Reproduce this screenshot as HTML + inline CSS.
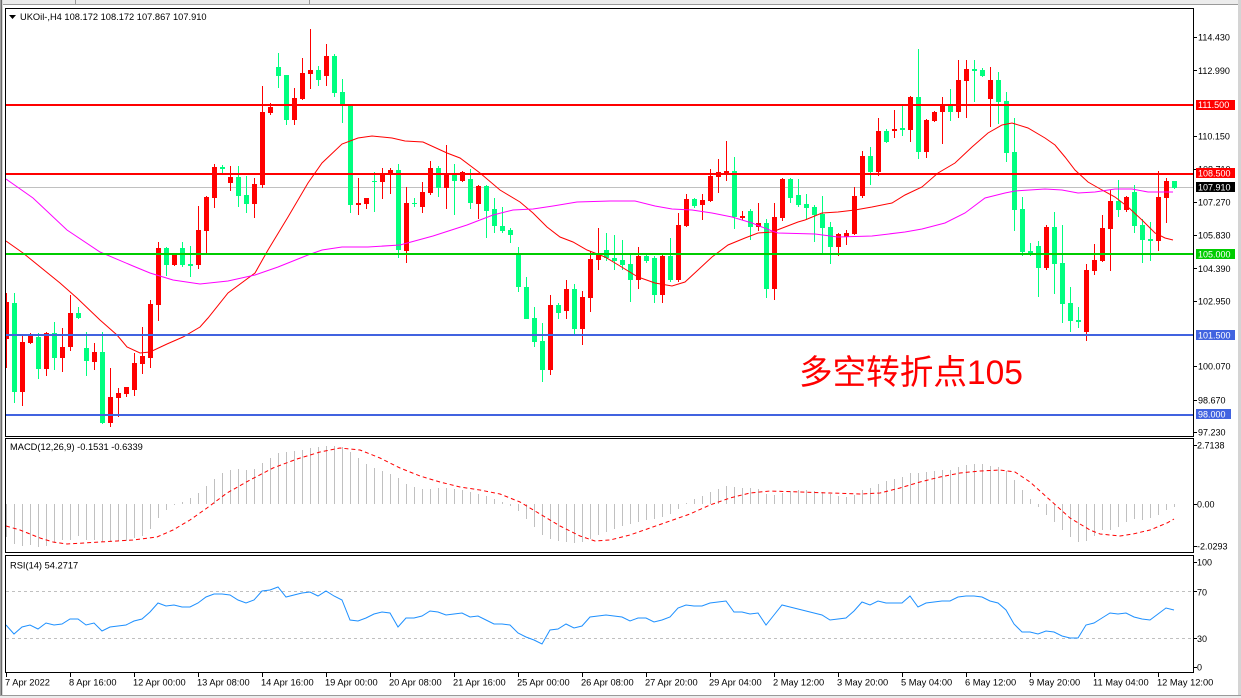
<!DOCTYPE html>
<html><head><meta charset="utf-8"><style>
html,body{margin:0;padding:0;background:#fff;}
svg{display:block;}
text{font-family:"Liberation Sans",Arial,sans-serif;}
</style></head><body>
<svg width="1241" height="698" viewBox="0 0 1241 698" xmlns="http://www.w3.org/2000/svg">
<defs><clipPath id="cm"><rect x="6" y="9" width="1187" height="427"/></clipPath>
<clipPath id="cmacd"><rect x="6" y="439" width="1187" height="113"/></clipPath>
<clipPath id="crsi"><rect x="6" y="556" width="1187" height="116"/></clipPath></defs>
<rect x="0" y="0" width="1241" height="698" fill="#fff"/>
<!-- window chrome -->
<rect x="0" y="0" width="1241" height="4" fill="#ececec"/>
<rect x="0" y="4" width="1241" height="1" fill="#9a9a9a"/>
<rect x="75" y="0" width="1" height="4" fill="#9a9a9a"/>
<rect x="309" y="0" width="1" height="4" fill="#9a9a9a"/>
<rect x="0" y="0" width="1" height="698" fill="#a0a0a0"/>
<rect x="1" y="0" width="1" height="698" fill="#6a6a6a"/>
<rect x="2" y="0" width="1" height="698" fill="#d8d8d8"/>
<rect x="1238" y="0" width="3" height="698" fill="#d4d4d4"/>
<rect x="0" y="695" width="1241" height="3" fill="#ececec"/>
<rect x="0" y="695" width="1241" height="1" fill="#9a9a9a"/>

<!-- current price gray line -->
<rect x="6" y="187" width="1187" height="1" fill="#c0c0c0"/>

<g clip-path="url(#cm)" shape-rendering="crispEdges">
<path fill="none" stroke="#ff0000" stroke-width="1" d="M6.5 293V368M22.5 336V406M30.5 333V344M46.5 332V376M62.5 328V372M70.5 295V351M94.5 343V370M110.5 368V427M118.5 388V417M126.5 387V397M134.5 353V396M142.5 327V374M150.5 300V368M158.5 242V321M174.5 255V266M198.5 206V269M206.5 196V253M214.5 164V208M230.5 166V191M254.5 178V218M262.5 86V188M270.5 103V115M294.5 88V125M302.5 58V100M310.5 29V89M326.5 44V86M358.5 178V215M366.5 198V209M382.5 168V199M390.5 168V194M406.5 187V263M422.5 182V213M430.5 161V195M446.5 145V209M462.5 171V182M478.5 185V219M550.5 295V375M566.5 280V319M582.5 291V345M590.5 251V312M598.5 228V270M638.5 247V289M662.5 255V303M678.5 213V282M686.5 194V227M702.5 194V220M710.5 169V202M718.5 159V193M726.5 141V181M742.5 211V220M758.5 203V231M774.5 203V300M782.5 178V221M838.5 233V256M846.5 230V245M854.5 187V235M862.5 151V198M878.5 118V176M894.5 110V138M910.5 96V142M926.5 119V158M934.5 111V122M942.5 97V144M958.5 60V118M966.5 60V118M990.5 67V127M1046.5 225V270M1086.5 264V341M1094.5 244V275M1102.5 215V262M1110.5 190V271M1126.5 196V212M1158.5 171V251M1166.5 178V223"/>
<path fill="#ff0000" d="M4 302h5v37h-5zM20 342h5v50h-5zM28 336h5v7h-5zM44 333h5v36h-5zM60 347h5v11h-5zM68 313h5v34h-5zM92 352h5v10h-5zM108 397h5v26h-5zM116 393h5v5h-5zM124 387h5v7h-5zM132 363h5v27h-5zM140 356h5v8h-5zM148 304h5v54h-5zM156 248h5v57h-5zM172 255h5v10h-5zM196 230h5v35h-5zM204 197h5v34h-5zM212 167h5v31h-5zM228 177h5v6h-5zM252 184h5v20h-5zM260 112h5v73h-5zM268 107h5v6h-5zM292 98h5v22h-5zM300 73h5v26h-5zM308 70h5v4h-5zM324 56h5v20h-5zM356 203h5v2h-5zM364 198h5v6h-5zM380 173h5v9h-5zM388 170h5v4h-5zM404 203h5v48h-5zM420 192h5v15h-5zM428 168h5v25h-5zM444 174h5v14h-5zM460 172h5v9h-5zM476 186h5v18h-5zM548 305h5v65h-5zM564 289h5v22h-5zM580 297h5v32h-5zM588 259h5v39h-5zM596 254h5v6h-5zM636 256h5v24h-5zM660 256h5v39h-5zM676 225h5v55h-5zM684 199h5v27h-5zM700 200h5v5h-5zM708 176h5v25h-5zM716 172h5v5h-5zM724 171h5v3h-5zM740 216h5v2h-5zM756 223h5v4h-5zM772 217h5v72h-5zM780 179h5v39h-5zM836 234h5v13h-5zM844 233h5v4h-5zM852 196h5v38h-5zM860 156h5v40h-5zM876 131h5v41h-5zM892 129h5v2h-5zM908 97h5v33h-5zM924 120h5v32h-5zM932 112h5v9h-5zM940 105h5v7h-5zM956 80h5v32h-5zM964 69h5v12h-5zM988 80h5v19h-5zM1044 227h5v41h-5zM1084 270h5v62h-5zM1092 260h5v11h-5zM1100 228h5v33h-5zM1108 201h5v28h-5zM1124 197h5v13h-5zM1156 197h5v44h-5zM1164 181h5v17h-5z"/>
<path fill="none" stroke="#00ff7f" stroke-width="1" d="M14.5 293V403M38.5 333V379M54.5 322V370M78.5 307V319M86.5 332V376M102.5 332V424M166.5 247V276M182.5 242V267M190.5 246V277M222.5 165V173M238.5 166V207M246.5 176V213M278.5 53V88M286.5 75V125M318.5 66V86M334.5 54V97M342.5 79V123M350.5 105V213M374.5 172V212M398.5 164V258M414.5 198V207M438.5 166V197M454.5 164V215M470.5 169V209M486.5 185V238M494.5 198V233M502.5 207V233M510.5 228V243M518.5 247V292M526.5 277V319M534.5 307V347M542.5 323V382M558.5 303V319M574.5 284V334M606.5 233V261M614.5 235V270M622.5 240V270M630.5 253V302M646.5 254V263M654.5 256V303M670.5 238V282M694.5 198V208M734.5 157V229M750.5 209V240M766.5 219V298M790.5 178V203M798.5 179V207M806.5 194V220M814.5 205V242M822.5 196V253M830.5 222V264M870.5 147V185M886.5 129V143M902.5 106V136M918.5 49V159M950.5 89V121M974.5 60V102M982.5 68V77M998.5 72V124M1006.5 92V162M1014.5 118V231M1022.5 197V256M1030.5 243V256M1038.5 241V297M1054.5 212V294M1062.5 225V323M1070.5 287V332M1078.5 307V328M1118.5 180V217M1134.5 185V233M1142.5 219V263M1150.5 222V261M1174.5 181V189"/>
<path fill="#00ff7f" d="M12 303h5v89h-5zM36 337h5v32h-5zM52 333h5v25h-5zM76 313h5v5h-5zM84 348h5v13h-5zM100 352h5v71h-5zM164 248h5v17h-5zM180 248h5v17h-5zM188 264h5v2h-5zM220 167h5v2h-5zM236 177h5v19h-5zM244 195h5v9h-5zM276 67h5v9h-5zM284 75h5v45h-5zM316 70h5v10h-5zM332 56h5v37h-5zM340 92h5v13h-5zM348 105h5v100h-5zM372 181h5v1h-5zM396 170h5v80h-5zM412 203h5v1h-5zM436 168h5v20h-5zM452 175h5v6h-5zM468 179h5v24h-5zM484 186h5v25h-5zM492 209h5v17h-5zM500 226h5v5h-5zM508 230h5v5h-5zM516 254h5v33h-5zM524 287h5v32h-5zM532 318h5v24h-5zM540 341h5v29h-5zM556 305h5v8h-5zM572 289h5v40h-5zM604 250h5v8h-5zM612 258h5v3h-5zM620 260h5v5h-5zM628 264h5v16h-5zM644 256h5v5h-5zM652 258h5v37h-5zM668 256h5v24h-5zM692 199h5v7h-5zM732 171h5v46h-5zM748 211h5v16h-5zM764 223h5v66h-5zM788 179h5v19h-5zM796 195h5v10h-5zM804 204h5v4h-5zM812 207h5v8h-5zM820 214h5v14h-5zM828 227h5v20h-5zM868 156h5v16h-5zM884 131h5v11h-5zM900 128h5v2h-5zM916 97h5v55h-5zM948 105h5v7h-5zM972 69h5v2h-5zM980 70h5v6h-5zM996 80h5v22h-5zM1004 101h5v52h-5zM1012 152h5v58h-5zM1020 209h5v43h-5zM1028 251h5v2h-5zM1036 246h5v22h-5zM1052 227h5v37h-5zM1060 263h5v41h-5zM1068 303h5v18h-5zM1076 320h5v2h-5zM1116 201h5v9h-5zM1132 192h5v34h-5zM1140 225h5v15h-5zM1148 239h5v2h-5zM1172 181h5v7h-5z"/>
</g>

<g clip-path="url(#cm)">
<!-- moving averages -->
<polyline fill="none" stroke="#ff0000" stroke-width="1" points="6,241 23,253 60,283 77,298 100,320 117,335 127,347 140,353 150,352 167,344 183,337 200,327 208,318 228,293 255,273 268,250 288,217 308,183 322,163 342,144 358,138 372,136 392,138 405,141 423,142 447,153 460,158 480,173 500,190 520,202 533,213 547,227 560,237 573,242 587,250 605,257 620,266 638,277 655,283 672,286 685,282 698,270 712,257 728,245 745,238 758,233 772,232 785,227 798,222 805,220 822,213 838,212 855,210 872,207 892,203 905,195 922,187 938,173 955,163 972,147 988,133 1002,125 1012,123 1028,128 1045,138 1055,145 1065,157 1075,170 1088,182 1102,190 1115,197 1128,207 1142,220 1155,233 1165,238 1173,240"/>
<polyline fill="none" stroke="#ff00ff" stroke-width="1" points="6,179 33,198 67,230 100,252 133,266 150,273 173,280 200,284 228,281 255,275 278,267 308,255 322,250 342,247 368,247 400,245 433,236 467,225 493,215 513,210 533,209 553,206 577,202 610,201 635,201 655,206 672,209 692,210 712,213 732,217 752,223 772,231 778,233 815,234 838,237 872,236 905,232 922,229 945,223 965,213 985,198 1005,193 1015,191 1045,189 1062,190 1078,193 1095,192 1115,189 1132,189 1148,192 1173,192"/>
</g>

<!-- horizontal levels -->
<g shape-rendering="crispEdges">
<rect x="6" y="104" width="1187" height="2" fill="#ff0000"/>
<rect x="6" y="173" width="1187" height="2" fill="#ff0000"/>
<rect x="6" y="253" width="1187" height="2" fill="#00cc00"/>
<rect x="6" y="334" width="1187" height="2" fill="#4163e0"/>
<rect x="6" y="414" width="1187" height="2" fill="#4163e0"/>
</g>

<!-- annotation -->
<text x="799" y="384" font-size="34" fill="#ff0000" textLength="224" lengthAdjust="spacingAndGlyphs" style="font-family:'Liberation Sans','Noto Sans CJK SC',sans-serif">多空转折点105</text>

<!-- header -->
<polygon points="9,15 16,15 12.5,19" fill="#000"/>
<text x="20" y="20" font-size="9.3" fill="#000">UKOil-,H4  108.172 108.172 107.867 107.910</text>

<!-- MACD -->
<g clip-path="url(#cmacd)">
<path fill="none" stroke="#c0c0c0" stroke-width="1" shape-rendering="crispEdges" d="M6.5 504V537M14.5 504V544M22.5 504V546M30.5 504V545M38.5 504V547M46.5 504V546M54.5 504V543M62.5 504V540M70.5 504V540M78.5 504V536M86.5 504V540M94.5 504V540M102.5 504V542M110.5 504V542M118.5 504V541M126.5 504V541M134.5 504V538M142.5 504V536M150.5 504V529M158.5 504V518M166.5 504V510M174.5 504V505M182.5 504V502M190.5 504V498M198.5 504V493M206.5 504V486M214.5 504V479M222.5 504V473M230.5 504V470M238.5 504V469M246.5 504V470M254.5 504V469M262.5 504V463M270.5 504V458M278.5 504V453M286.5 504V452M294.5 504V451M302.5 504V450M310.5 504V448M318.5 504V447M326.5 504V446M334.5 504V446M342.5 504V447M350.5 504V452M358.5 504V458M366.5 504V464M374.5 504V468M382.5 504V471M390.5 504V474M398.5 504V478M406.5 504V484M414.5 504V487M422.5 504V489M430.5 504V489M438.5 504V488M446.5 504V488M454.5 504V489M462.5 504V490M470.5 504V492M478.5 504V494M486.5 504V496M494.5 504V499M502.5 504V502M510.5 504V506M518.5 504V511M526.5 504V519M534.5 504V527M542.5 504V535M550.5 504V539M558.5 504V541M566.5 504V542M574.5 504V543M582.5 504V542M590.5 504V539M598.5 504V535M606.5 504V532M614.5 504V529M622.5 504V526M630.5 504V524M638.5 504V522M646.5 504V520M654.5 504V519M662.5 504V517M670.5 504V514M678.5 504V509M686.5 504V503M694.5 504V499M702.5 504V496M710.5 504V492M718.5 504V489M726.5 504V486M734.5 504V487M742.5 504V488M750.5 504V488M758.5 504V489M766.5 504V494M774.5 504V495M782.5 504V493M790.5 504V491M798.5 504V490M806.5 504V490M814.5 504V491M822.5 504V492M830.5 504V494M838.5 504V496M846.5 504V497M854.5 504V495M862.5 504V490M870.5 504V488M878.5 504V484M886.5 504V481M894.5 504V479M902.5 504V477M910.5 504V473M918.5 504V473M926.5 504V472M934.5 504V471M942.5 504V470M950.5 504V470M958.5 504V467M966.5 504V465M974.5 504V464M982.5 504V464M990.5 504V466M998.5 504V467M1006.5 504V471M1014.5 504V480M1022.5 504V490M1030.5 504V499M1038.5 504V507M1046.5 504V515M1054.5 504V522M1062.5 504V530M1070.5 504V537M1078.5 504V542M1086.5 504V541M1094.5 504V536M1102.5 504V530M1110.5 504V530M1118.5 504V527M1126.5 504V522M1134.5 504V519M1142.5 504V520M1150.5 504V518M1158.5 504V515M1166.5 504V510M1174.5 504V507"/>
<polyline fill="none" stroke="#ff0000" stroke-width="1" stroke-dasharray="4,3" points="6,526 20,530 40,538 53,542 67,544 100,542 133,540 157,537 173,530 190,520 207,508 227,493 250,480 273,468 297,459 320,452 340,448 360,450 380,458 400,468 420,476 440,482 460,487 480,490 500,494 520,502 540,514 560,526 580,536 595,541 610,540 630,535 650,528 670,521 690,514 710,505 730,498 750,493 770,491 800,492 830,493 860,494 880,493 900,488 920,482 940,477 960,473 980,471 1000,470 1015,472 1030,482 1050,500 1070,518 1090,530 1100,534 1120,536 1133,534 1150,530 1167,523 1174,519"/>
</g>
<text x="10" y="450" font-size="9.3" fill="#000">MACD(12,26,9) -0.1531 -0.6339</text>

<!-- RSI -->
<g clip-path="url(#crsi)">
<line x1="6" y1="591.5" x2="1193" y2="591.5" stroke="#c0c0c0" stroke-width="1" stroke-dasharray="3,3"/>
<line x1="6" y1="638.5" x2="1193" y2="638.5" stroke="#c0c0c0" stroke-width="1" stroke-dasharray="3,3"/>
<polyline fill="none" stroke="#1e90ff" stroke-width="1" points="6,625 14,634 22,627 30,625 38,629 46,623 54,625 62,624 70,619 78,619 86,625 94,623 102,631 110,627 118,626 126,625 134,621 142,619 150,612 158,603 166,606 174,605 182,607 190,607 198,603 206,597 214,594 222,594 230,595 238,600 246,603 254,600 262,591 270,590 278,587 286,597 294,595 302,593 310,592 318,596 326,591 334,596 342,600 350,620 358,621 366,618 374,614 382,612 390,613 398,627 406,618 414,618 422,616 430,611 438,612 446,615 454,614 462,613 470,617 478,616 486,620 494,624 502,624 510,625 518,633 526,637 534,640 542,644 550,630 558,629 566,624 574,628 582,626 590,617 598,616 606,615 614,616 622,617 630,621 638,618 646,618 654,622 662,620 670,617 678,608 686,605 694,606 702,606 710,603 718,602 726,601 734,612 742,612 750,614 758,613 766,625 774,615 782,605 790,607 798,609 806,611 814,613 822,615 830,620 838,619 846,618 854,611 862,602 870,605 878,601 886,603 894,603 902,603 910,596 918,607 926,603 934,602 942,601 950,601 958,597 966,596 974,596 982,597 990,601 998,603 1006,610 1014,624 1022,632 1030,632 1038,634 1046,631 1054,632 1062,636 1070,638 1078,638 1086,625 1094,623 1102,618 1110,613 1118,614 1126,613 1134,617 1142,619 1150,620 1158,614 1166,608 1174,610"/>
</g>
<text x="10" y="568.5" font-size="9.3" fill="#000">RSI(14) 54.2717</text>

<!-- frames -->
<g fill="none" stroke="#000" stroke-width="1" shape-rendering="crispEdges">
<rect x="5.5" y="8.5" width="1188" height="428"/>
<rect x="5.5" y="438.5" width="1188" height="114"/>
<rect x="5.5" y="555.5" width="1188" height="117"/>
</g>

<!-- price axis ticks -->
<path stroke="#000" stroke-width="1" shape-rendering="crispEdges" d="M1193 37.5h4M1193 70.5h4M1193 136.5h4M1193 169.5h4M1193 202.5h4M1193 235.5h4M1193 268.5h4M1193 301.5h4M1193 366.5h4M1193 400.5h4M1193 432.5h4M1193 445.5h4M1193 504.5h4M1193 546.5h4M1193 562.5h4M1193 591.5h4M1193 638.5h4M1193 667.5h4"/>
<g font-size="9" fill="#000">
<text x="1198" y="40.6">114.430</text>
<text x="1198" y="74">112.990</text>
<text x="1198" y="139.3">110.150</text>
<text x="1198" y="172.3">108.710</text>
<text x="1198" y="205.3">107.270</text>
<text x="1198" y="238.6">105.830</text>
<text x="1198" y="272">104.390</text>
<text x="1198" y="304.6">102.950</text>
<text x="1198" y="369.3">100.070</text>
<text x="1198" y="403.6">98.670</text>
<text x="1198" y="435.4">97.230</text>
<text x="1197" y="448.5">2.7138</text>
<text x="1197" y="507.5">0.00</text>
<text x="1197" y="549.5">-2.0293</text>
<text x="1197" y="565.5">100</text>
<text x="1197" y="595.5">70</text>
<text x="1197" y="642">30</text>
<text x="1197" y="670.5">0</text>
</g>
<!-- price label boxes -->
<g shape-rendering="crispEdges">
<rect x="1196" y="100" width="39" height="10" fill="#ff0000"/>
<rect x="1196" y="168" width="39" height="10" fill="#ff0000"/>
<rect x="1196" y="182" width="39" height="10" fill="#000"/>
<rect x="1196" y="249" width="39" height="10" fill="#00cc00"/>
<rect x="1196" y="330" width="39" height="10" fill="#4163e0"/>
<rect x="1196" y="409" width="35" height="10" fill="#4163e0"/>
</g>
<g font-size="9" fill="#fff">
<text x="1198" y="108">111.500</text>
<text x="1198" y="176.3">108.500</text>
<text x="1198" y="190.5">107.910</text>
<text x="1198" y="257.3">105.000</text>
<text x="1198" y="338.3">101.500</text>
<text x="1198" y="417.5">98.000</text>
</g>

<!-- time axis -->
<path stroke="#000" stroke-width="1" shape-rendering="crispEdges" d="M6.5 673v4M70.5 673v4M134.5 673v4M198.5 673v4M262.5 673v4M326.5 673v4M390.5 673v4M454.5 673v4M518.5 673v4M582.5 673v4M646.5 673v4M710.5 673v4M774.5 673v4M838.5 673v4M902.5 673v4M966.5 673v4M1030.5 673v4M1094.5 673v4M1158.5 673v4"/>
<g font-size="9.3" fill="#000">
<text x="5" y="685.5">7 Apr 2022</text>
<text x="69" y="685.5">8 Apr 16:00</text>
<text x="133" y="685.5">12 Apr 00:00</text>
<text x="197" y="685.5">13 Apr 08:00</text>
<text x="261" y="685.5">14 Apr 16:00</text>
<text x="325" y="685.5">19 Apr 00:00</text>
<text x="389" y="685.5">20 Apr 08:00</text>
<text x="453" y="685.5">21 Apr 16:00</text>
<text x="517" y="685.5">25 Apr 00:00</text>
<text x="581" y="685.5">26 Apr 08:00</text>
<text x="645" y="685.5">27 Apr 20:00</text>
<text x="709" y="685.5">29 Apr 04:00</text>
<text x="773" y="685.5">2 May 12:00</text>
<text x="837" y="685.5">3 May 20:00</text>
<text x="901" y="685.5">5 May 04:00</text>
<text x="965" y="685.5">6 May 12:00</text>
<text x="1029" y="685.5">9 May 20:00</text>
<text x="1093" y="685.5">11 May 04:00</text>
<text x="1157" y="685.5">12 May 12:00</text>
</g>
</svg>
</body></html>
